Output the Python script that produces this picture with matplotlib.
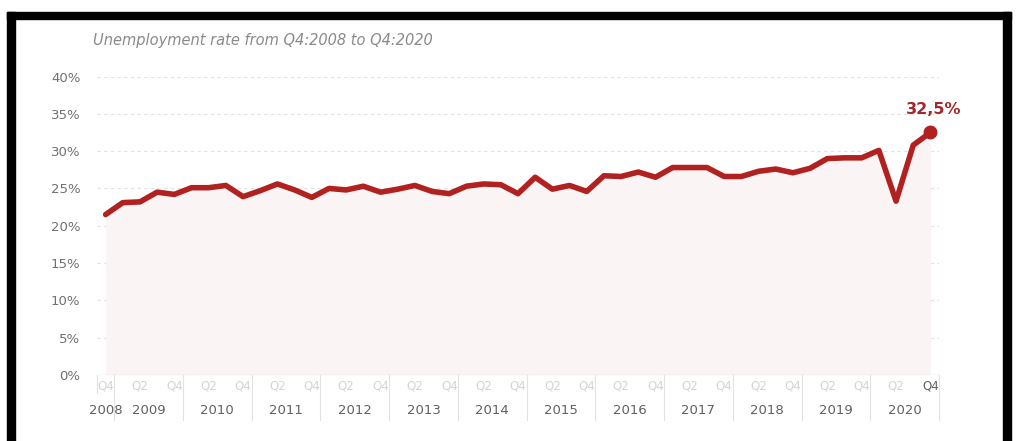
import numpy as np
import matplotlib.pyplot as plt
from matplotlib.patches import Rectangle
from matplotlib.transforms import blended_transform_factory

# Unemployment rate, quarterly, Q4 2008 .. Q4 2020
rates = [21.5, 23.1, 23.2, 24.5, 24.2, 25.1, 25.1, 25.4, 23.9, 24.7,
         25.6, 24.8, 23.8, 25.0, 24.8, 25.3, 24.5, 24.9, 25.4, 24.6,
         24.3, 25.3, 25.6, 25.5, 24.3, 26.5, 24.9, 25.4, 24.6, 26.7,
         26.6, 27.2, 26.5, 27.8, 27.8, 27.8, 26.6, 26.6, 27.3, 27.6,
         27.1, 27.7, 29.0, 29.1, 29.1, 30.1, 23.3, 30.8, 32.5]
years = ['2008', '2009', '2010', '2011', '2012', '2013', '2014',
         '2015', '2016', '2017', '2018', '2019', '2020']
title = 'Unemployment rate from Q4:2008 to Q4:2020'
last_label = '32,5%'

red = '#b0211f'
plt.rcParams['font.family'] = ['DejaVu Sans']

fig = plt.figure(figsize=(10.19, 4.41), dpi=100)
W, H = 1019, 441
ax = fig.add_axes([97 / W, (H - 375) / H, (939 - 97) / W, (375 - 76.5) / H])

x = np.arange(len(rates))
ax.fill_between(x, 0, rates, color='#fbf4f4', lw=0, zorder=1)
ax.plot(x, rates, color=red, lw=4, solid_joinstyle='round', solid_capstyle='round', zorder=3)
ax.plot(x[-1], rates[-1], 'o', color=red, ms=9, zorder=4, clip_on=False)
ax.annotate(last_label, (x[-1], rates[-1]), xytext=(2, 11), textcoords='offset points',
            ha='center', va='bottom', fontsize=11.5, fontweight='bold', color='#a3282a')

ax.set_xlim(-0.5, len(rates) - 0.5)
ax.set_ylim(0, 40)
yt = np.arange(0, 41, 5)
ax.set_yticks(yt)
ax.set_yticklabels([f'{v}%' for v in yt], fontsize=9.5, color='#707070')
for v in yt[1:]:
    ax.axhline(v, color='#e2e2e2', lw=0.8, ls=(0, (3, 3)), zorder=0)
ax.axhline(0, color='#e4e4e4', lw=1, zorder=2)

# quarter labels Q4, Q2, Q4, ...
qpos = x[::2]
qlab = ['Q4' if (i % 4 == 0) else 'Q2' for i in qpos]
ax.set_xticks(qpos)
ax.set_xticklabels(qlab, fontsize=8.5, color='#d4d4d4')
ax.get_xticklabels()[-1].set_color('#606060')
ax.tick_params(length=0)
ax.tick_params(axis='y', pad=12)
ax.tick_params(axis='x', pad=3)
for s in ax.spines.values():
    s.set_visible(False)

# year labels and separators
tr = blended_transform_factory(ax.transData, ax.transAxes)
ax.text(0, -0.12, years[0], transform=tr, ha='center', va='center',
        fontsize=9.5, color='#606060')
for k, yr in enumerate(years[1:]):
    c = 1 + 4 * k + 1.5
    ax.text(c, -0.12, yr, transform=tr, ha='center', va='center',
            fontsize=9.5, color='#606060')
ax.plot([-0.5, -0.5], [0, -0.06], color='#e2e2e2', lw=0.8, transform=tr, clip_on=False)
for b in np.arange(0.5, len(rates), 4):
    ax.plot([b, b], [0, -0.15], color='#e2e2e2', lw=0.8, transform=tr, clip_on=False)

fig.text(93 / W, 1 - 40 / H, title, fontsize=10.5, style='italic', color='#8a8a8a',
         ha='left', va='center')

# black frame
for (x0, y0, w, h) in [(7, 12, 1004, 7), (7, 12, 8, 429), (1003, 12, 8, 429)]:
    fig.patches.append(Rectangle((x0 / W, 1 - (y0 + h) / H), w / W, h / H,
                                 transform=fig.transFigure, color='black', zorder=10))

fig.savefig('out.png', dpi=100)
